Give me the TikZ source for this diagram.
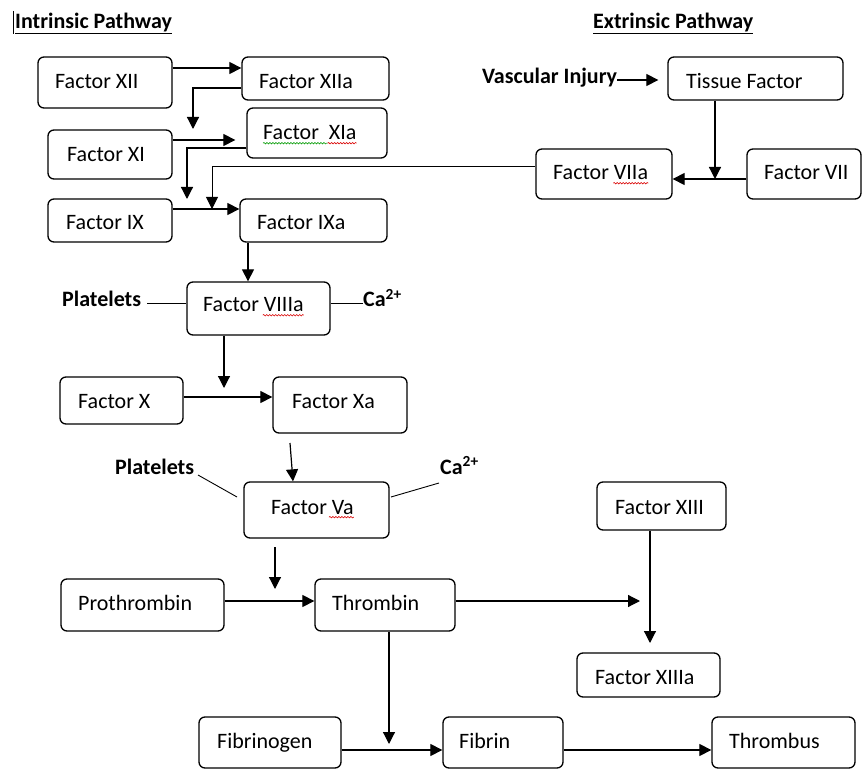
\documentclass[tikz,border=0pt]{standalone}
\usepackage{fontspec}
\setmainfont{Carlito}
\usetikzlibrary{arrows.meta,fit,decorations.pathmorphing}
\begin{document}
\begin{tikzpicture}[x=1pt,y=-1pt,
  box/.style={draw, rounded corners=6pt, line width=1.3pt, inner sep=0pt},
  lbl/.style={inner sep=0pt, anchor=west, text height=14pt, text depth=0pt, font=\fontsize{22}{26}\selectfont},
  blbl/.style={lbl, font=\fontsize{22}{26}\selectfont\bfseries},
  arr/.style={line width=1.2pt, -{Triangle[length=12pt,width=12pt]}},
  ln/.style={line width=1.2pt},
  thin/.style={line width=0.9pt},
  squig/.style={draw=red!85!black, line width=0.6pt, decorate, decoration={snake,amplitude=0.7pt,segment length=3pt}},
  gsquig/.style={squig, draw=green!60!black}]
\useasboundingbox (0,0) rectangle (863,770);

% titles
\node[blbl] (ti) at (15,22) {Intrinsic Pathway};
\node[blbl] (te) at (593,22) {Extrinsic Pathway};
\draw[line width=0.9pt] ([yshift=-4pt]ti.south west) -- ([yshift=-4pt]ti.south east);
\draw[line width=0.9pt] ([yshift=-4pt]te.south west) -- ([yshift=-4pt]te.south east);
\coordinate (cur1) at (13,11);
\coordinate (cur2) at (13,34);
\draw[line width=0.8pt] (cur1) -- (cur2);

% boxes
\node[box, fit={(38,57)(172,108)}] (xii) {};
\node[box, fit={(242,57)(389,100)}] (xiia) {};
\node[box, fit={(48,130)(172,179)}] (xi) {};
\node[box, fit={(247,108)(387,158)}] (xia) {};
\node[box, fit={(48,199)(172,242)}] (ix) {};
\node[box, fit={(240,199)(387,242)}] (ixa) {};
\node[box, fit={(668,57)(843,100)}] (tf) {};
\node[box, fit={(536,149)(672,199)}] (viia) {};
\node[box, fit={(747,149)(861,199)}] (vii) {};
\node[box, fit={(187,282)(330,335)}] (viiia) {};
\node[box, fit={(60,377)(183,424)}] (x) {};
\node[box, fit={(273,377)(407,433)}] (xa) {};
\node[box, fit={(244,482)(389,538)}] (va) {};
\node[box, fit={(597,482)(726,530)}] (xiii) {};
\node[box, fit={(61,579)(224,631)}] (pro) {};
\node[box, fit={(315,579)(455,631)}] (thr) {};
\node[box, fit={(577,653)(720,697)}] (xiiia) {};
\node[box, fit={(199,717)(341,768)}] (fgn) {};
\node[box, fit={(443,717)(563,768)}] (fib) {};
\node[box, fit={(712,717)(855,768)}] (thb) {};

% labels in boxes
\node[lbl] (lxii) at (55,82) {Factor XII};
\node[lbl] (lxiia) at (259,82) {Factor XIIa};
\node[lbl] (lxi) at (67,155) {Factor XI};
\node[lbl] (lxia) at (263,133) {Factor\ \ XIa};
\node[lbl] (lix) at (66,223) {Factor IX};
\node[lbl] (lixa) at (257,223) {Factor IXa};
\node[lbl] (ltf) at (686,82) {Tissue Factor};
\node[lbl] (lviia) at (553,173) {Factor VIIa};
\node[lbl] (lvii) at (764,173) {Factor VII};
\node[lbl] (lviiia) at (203,305) {Factor VIIIa};
\node[lbl] (lx) at (78,401) {Factor X};
\node[lbl] (lxa) at (292,401) {Factor Xa};
\node[lbl] (lva) at (271,507) {Factor Va};
\node[lbl] (lxiii) at (615,507) {Factor XIII};
\node[lbl] (lpro) at (78,603) {Prothrombin};
\node[lbl] (lthr) at (332,603) {Thrombin};
\node[lbl] (lxiiia) at (595,677) {Factor XIIIa};
\node[lbl] (lfgn) at (217,741) {Fibrinogen};
\node[lbl] (lfib) at (459,741) {Fibrin};
\node[lbl] (lthb) at (729,741) {Thrombus};

% spell-check marks
\draw[gsquig] ([yshift=-3pt]lxia.south west) -- ([xshift=-29pt,yshift=-3pt]lxia.south east);
\draw[squig] ([xshift=-29pt,yshift=-3pt]lxia.south east) -- ([yshift=-3pt]lxia.south east);
\draw[squig] ([xshift=-35pt,yshift=-3pt]lviia.south east) -- ([yshift=-3pt]lviia.south east);
\draw[squig] ([xshift=-41pt,yshift=-3pt]lviiia.south east) -- ([yshift=-3pt]lviiia.south east);
\draw[squig] ([xshift=-25pt,yshift=-3pt]lva.south east) -- ([yshift=-3pt]lva.south east);

% side labels
\node[blbl] (vi) at (482,77) {Vascular Injury};
\node[blbl] (pl1) at (62,300) {Platelets};
\node[blbl] (ca1) at (363,300) {Ca\textsuperscript{2+}};
\node[blbl] (pl2) at (115,467) {Platelets};
\node[blbl] (ca2) at (440,467) {Ca\textsuperscript{2+}};

% junction / free-end coordinates
\coordinate (j1) at (193,129);
\coordinate (j3) at (187,199);
\coordinate (j4) at (212,209);
\coordinate (j5) at (715,179);
\coordinate (p1) at (147,303);
\coordinate (j6) at (224,388);
\coordinate (k1) at (290,443);
\coordinate (p2a) at (198,475);
\coordinate (p2b) at (237,497);
\coordinate (c2a) at (439,483);
\coordinate (c2b) at (391,497);
\coordinate (m1) at (275,547);
\coordinate (m2) at (275,589);
\coordinate (j7) at (640,601);
\coordinate (j8) at (650,643);
\coordinate (j9) at (389,744);

% connectors
\draw[arr] (xii.east |- 0,68) -- (xiia.west |- 0,68);
\draw[arr] (xiia.west |- 0,88) -| (j1);
\draw[arr, shorten >=11pt] (xi.east |- 0,140) -- (xia.west |- 0,140);
\draw[arr] (xia.west |- 0,148) -| (j3);
\draw[arr] (ix.east |- 0,209) -- (ixa.west |- 0,209);
\draw[thin, -{Triangle[length=12pt,width=12pt]}] (viia.west |- 0,166) -| (j4);
\draw[arr] (vii.west |- 0,179) -- (viia.east |- 0,179);
\draw[arr] (tf.south -| 715,0) -- (j5);
\draw[arr, shorten >=9pt] (vi.east |- 0,80) -- (tf.west |- 0,80);
\draw[arr] (ixa.south -| 248,0) -- (viiia.north -| 248,0);
\draw[thin] (p1) -- (viiia.west |- p1);
\draw[thin] (viiia.east |- 0,303) -- (ca1.west |- 0,303);
\draw[arr] (viiia.south -| 224,0) -- (j6);
\draw[arr] (x.east |- 0,397) -- (xa.west |- 0,397);
\draw[arr] (k1) -- (va.north -| 293,0);
\draw[thin] (p2a) -- (p2b);
\draw[thin] (c2a) -- (c2b);
\draw[arr] (m1) -- (m2);
\draw[arr] (pro.east |- 0,601) -- (thr.west |- 0,601);
\draw[arr] (thr.east |- 0,601) -- (j7);
\draw[arr] (xiii.south -| 650,0) -- (j8);
\draw[arr] (thr.south -| 389,0) -- (j9);
\draw[arr] (fgn.east |- 0,750) -- (fib.west |- 0,750);
\draw[arr] (fib.east |- 0,750) -- (thb.west |- 0,750);
\end{tikzpicture}
\end{document}
